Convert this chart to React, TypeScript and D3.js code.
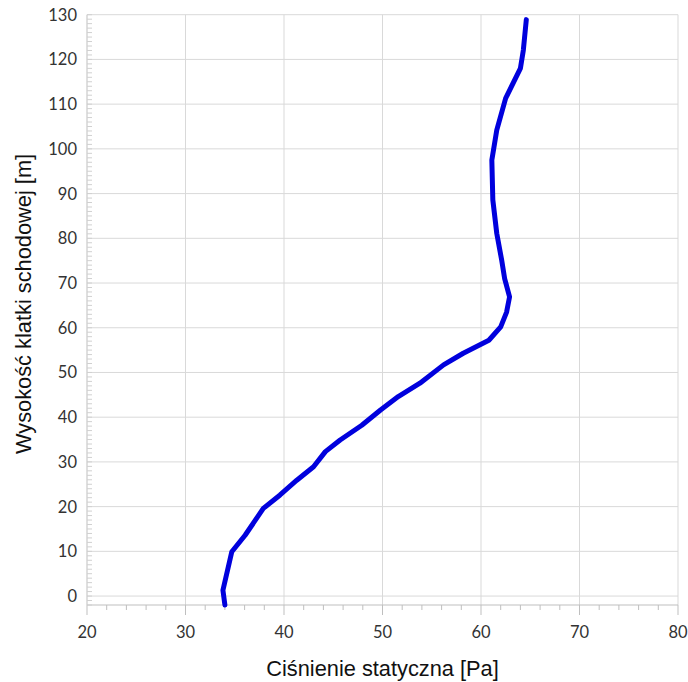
import React from 'react';
import * as d3 from 'd3';

// ciśnienie [Pa] vs wysokość [m]
const pressure = [34.0, 33.8, 34.7, 36.05, 37.9, 39.6, 41.3, 43.0, 44.2, 45.7, 47.9, 49.8, 51.6, 53.8, 56.2, 58.2, 60.8, 62.0, 62.6, 62.9, 62.4, 62.1, 61.6, 61.2, 61.1, 61.6, 62.5, 64.0, 64.3, 64.6];
const height = [-2.0, 1.3, 9.9, 13.6, 19.6, 22.6, 25.9, 28.9, 32.3, 34.9, 38.2, 41.6, 44.6, 47.6, 51.7, 54.3, 57.2, 60.2, 63.5, 66.9, 71.0, 75.1, 81.1, 88.6, 97.5, 104.2, 111.3, 118.0, 122.1, 128.9];

const xTicks = [20, 30, 40, 50, 60, 70, 80];
const yTicks = [0, 10, 20, 30, 40, 50, 60, 70, 80, 90, 100, 110, 120, 130];

const xTitle = 'Ciśnienie statyczna [Pa]';
const yTitle = 'Wysokość klatki schodowej [m]';

const W = 688;
const H = 682;
const margin = { left: 87, right: 10, top: 14.7, bottom: 77 };

export default function App() {
    const x = d3.scaleLinear().domain([20, 80]).range([margin.left, W - margin.right]);
    const y = d3.scaleLinear().domain([-2, 130]).range([H - margin.bottom, margin.top]);

    const points = pressure.map((p, i) => [p, height[i]] as [number, number]);
    const line = d3.line<[number, number]>()
        .x(d => x(d[0]))
        .y(d => y(d[1]))
        .curve(d3.curveLinear);

    const minorX = d3.range(20, 80.01, 2);
    const minorY = d3.range(-2, 130.01, 1);
    const tickFont = 'Lato, "Open Sans", sans-serif';
    const titleFont = '"Liberation Sans", Arial, sans-serif';
    const x0 = x(20);
    const yBottom = y(-2);

    return (
        <svg width={W} height={H} style={{ position: 'absolute', left: 0, top: 0, background: '#fff' }}>
            {/* siatka */}
            {xTicks.filter(t => t > 20).map(t => (
                <line key={'gx' + t} x1={x(t)} x2={x(t)} y1={y(130)} y2={yBottom} stroke="#d9d9d9" strokeWidth={1} />
            ))}
            {yTicks.map(t => (
                <line key={'gy' + t} x1={x0} x2={x(80)} y1={y(t)} y2={y(t)} stroke="#d9d9d9" strokeWidth={1} />
            ))}

            {/* osie */}
            <line x1={x0} x2={x(80)} y1={yBottom} y2={yBottom} stroke="#bfbfbf" strokeWidth={1} />
            <line x1={x0} x2={x0} y1={y(130)} y2={yBottom} stroke="#bfbfbf" strokeWidth={1} />
            {minorX.map(t => (
                <line key={'mx' + t} x1={x(t)} x2={x(t)} y1={yBottom} y2={yBottom + (t % 10 === 0 ? 10 : 5)} stroke="#bfbfbf" strokeWidth={1} />
            ))}
            {minorY.map(t => (
                <line key={'my' + t} x1={x0} x2={x0 + 5} y1={y(t)} y2={y(t)} stroke="#d0d0d0" strokeWidth={1} />
            ))}

            {/* etykiety */}
            {xTicks.map(t => (
                <text key={'tx' + t} x={x(t)} y={638} textAnchor="middle" fontFamily={tickFont} fontSize={16.5} fill="#333">{t}</text>
            ))}
            {yTicks.map(t => (
                <text key={'ty' + t} x={77} y={y(t)} dy="0.36em" textAnchor="end" fontFamily={tickFont} fontSize={16.5} fill="#333">{t}</text>
            ))}
            <text x={382.5} y={676} textAnchor="middle" fontFamily={titleFont} fontSize={21.8} fill="#111">{xTitle}</text>
            <text transform="translate(31, 304) rotate(-90)" textAnchor="middle" fontFamily={titleFont} fontSize={21.8} fill="#111">{yTitle}</text>

            {/* krzywa */}
            <path d={line(points) || ''} fill="none" stroke="#0000dd" strokeWidth={5} strokeLinejoin="round" strokeLinecap="round" />
        </svg>
    );
}
